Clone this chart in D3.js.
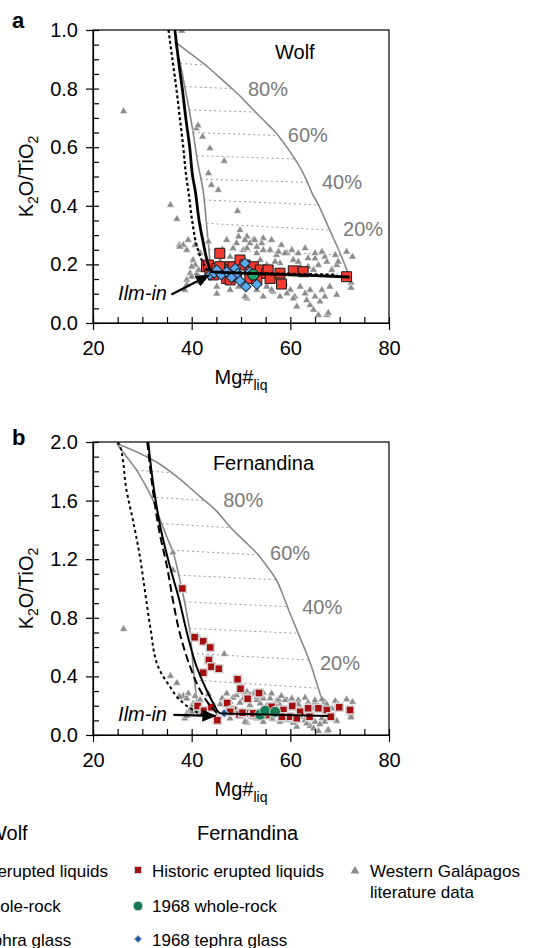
<!DOCTYPE html>
<html>
<head>
<meta charset="utf-8">
<script src="https://cdn.jsdelivr.net/npm/d3@7"></script>
<style>
  body { margin: 0; background: #fff; }
  svg { display: block; font-family: "Liberation Sans", Arial, Helvetica, sans-serif; }
</style>
</head>
<body>
<svg id="chart" width="553" height="948"></svg>
<script>
// ---- data: [Mg#liq, K2O/TiO2] ----
var litData = [
  [26.2,0.723],[38.0,0.997],[36.2,1.245],[36.2,1.125],
  [40.9,0.664],[41.3,0.674],[42.2,0.636],[43.7,0.596],[46.6,0.553],[43.4,0.511],[44.0,0.471],[45.4,0.454],
  [35.7,0.403],[49.3,0.382],[37.0,0.355],[49.8,0.317],
  [37.5,0.266],[38.3,0.266],[39.3,0.283],[39.0,0.249],[37.6,0.26],[40.7,0.266],[41.7,0.239],
  [40.3,0.215],[40.7,0.198],[40.0,0.192],[39.7,0.17],[41.0,0.169],[41.4,0.181],[40.0,0.158],
  [39.0,0.147],[38.6,0.113],[41.7,0.141],[39.0,0.13],[43.4,0.278],
  [51.2,0.295],[52.5,0.283],[54.5,0.289],[48.4,0.255],[50.5,0.249],[53.2,0.238],[55.9,0.249],
  [57.2,0.232],[59.3,0.238],[47.8,0.226],[49.8,0.22],[51.8,0.204],[53.9,0.215],[55.2,0.198],
  [57.9,0.204],[60.6,0.215],[63.0,0.255],[65.0,0.22],[67.0,0.226],[69.1,0.232],[71.4,0.243],
  [72.6,0.226],[69.4,0.198],[62.0,0.192],[56.2,0.283],[57.6,0.243],[58.9,0.238],[58.2,0.266],
  [60.3,0.249],[61.6,0.238],[63.6,0.221],[65.0,0.238],[66.4,0.243],[67.4,0.209],[68.4,0.181],
  [69.7,0.209],[55.5,0.192],[56.9,0.209],[61.6,0.209],[63.6,0.192],[65.7,0.198],[64.7,0.181],
  [49.1,0.272],[50.8,0.283],[51.8,0.272],[52.8,0.283],[53.2,0.26],[54.2,0.272],[54.5,0.249],
  [51.2,0.255],[49.5,0.295],[47.1,0.283],[46.2,0.25],[45.8,0.21],
  [72.3,0.137],[72.3,0.12],
  [45.1,0.124],[47.8,0.113],[51.2,0.084],[49.5,0.124],[45.1,0.10],[50.8,0.09],[53.2,0.113],
  [55.2,0.124],[56.5,0.107],[54.5,0.09],[57.9,0.09],[60.0,0.113],[60.9,0.09],[62.0,0.124],
  [63.0,0.101],[64.0,0.113],[65.0,0.09],[66.4,0.113],[67.0,0.09],[61.3,0.056],[64.0,0.061],
  [65.7,0.027],[67.4,0.027],[63.3,0.078],[58.9,0.135],[56.2,0.113],[67.7,0.034],[68.0,0.124],
  [69.4,0.096],[66.0,0.073],[64.7,0.045],[59.3,0.101],[60.6,0.084]
];

var wolfLiquids = [
  [45.7,0.238],[43.0,0.192],[43.7,0.175],[43.4,0.198],[45.1,0.186],[45.7,0.192],[47.8,0.192],
  [47.8,0.181],[47.1,0.152],[47.8,0.147],[48.4,0.192],[49.8,0.215],[49.1,0.158],[50.8,0.198],
  [51.8,0.175],[51.8,0.152],[52.5,0.192],[53.9,0.181],[53.2,0.147],[55.2,0.169],[55.5,0.181],
  [55.9,0.152],[57.9,0.17],[58.2,0.133],[60.6,0.178],[62.6,0.175],[71.4,0.158],[44.4,0.164]
];
var wolfWholeRock = [[52.5,0.165]];
var wolfGlass = [
  [43.7,0.164],[44.6,0.17],[45.1,0.181],[46.0,0.164],[47.1,0.175],[48.1,0.155],[48.8,0.186],
  [49.3,0.169],[49.8,0.144],[50.8,0.204],[51.0,0.124],[51.8,0.175],[53.2,0.132]
];

var fernLiquids = [
  [38.1,1.0],[40.6,0.668],[42.35,0.64],[43.75,0.598],[43.5,0.512],[44.0,0.466],[45.5,0.453],
  [42.35,0.425],[49.3,0.381],[49.9,0.316],[51.35,0.247],[53.65,0.287],[47.2,0.218],[41.2,0.198],
  [42.5,0.166],[45.2,0.1],[48.4,0.17],[51.4,0.15],[56.2,0.193],[58.6,0.171],[60.4,0.198],
  [62.0,0.159],[63.6,0.182],[65.7,0.182],[67.4,0.171],[68.2,0.125],[69.9,0.189],[72.1,0.171],
  [59.9,0.125],[61.3,0.114],[58.3,0.125],[55.1,0.136],[49.7,0.14],[52.4,0.136],[63.9,0.125],
  [44.0,0.19],[47.8,0.159],[50.3,0.152],[52.5,0.148]
];
var fernWholeRock = [[53.9,0.14],[54.9,0.165],[56.9,0.158]];
var fernGlass = [[46.6,0.148]];

// model curves, Wolf
var wolfArc = [
  [36.6,0.96],[39.3,0.925],[42.4,0.886],[45.0,0.848],[47.8,0.806],[50.2,0.768],[52.5,0.727],
  [55.0,0.685],[57.2,0.647],[59.0,0.607],[60.6,0.568],[62.0,0.53],[63.2,0.49],[64.5,0.44],
  [65.7,0.403],[68.0,0.317],[70.4,0.226],[72.0,0.157]
];
var wolfFC = [
  [36.6,0.96],[37.5,0.9],[38.6,0.807],[39.5,0.727],[40.3,0.65],[41.2,0.55],[42.3,0.454],
  [43.0,0.34],[43.5,0.25],[43.8,0.19]
];
var wolfModel = [
  [36.6,1.0],[37.3,0.9],[38.1,0.8],[38.8,0.7],[39.6,0.6],[40.2,0.5],[40.7,0.454],[41.5,0.35],
  [42.4,0.27],[43.2,0.21],[44.0,0.175],[50.0,0.17],[60.0,0.165],[72.0,0.157]
];
var wolfModelDotted = [
  [35.3,1.0],[36.1,0.9],[36.9,0.8],[37.6,0.7],[38.3,0.6],[38.9,0.5],[39.3,0.454],[40.1,0.35],
  [41.1,0.26],[42.2,0.21],[43.4,0.178],[50.0,0.172],[60.0,0.168],[69.5,0.165]
];
var wolfTies = [
  [0.886,0.88],[0.807,0.80],[0.727,0.72],[0.65,0.64],[0.571,0.56],[0.491,0.48],
  [0.42,0.403],[0.34,0.317],[0.25,0.232]
];

// model curves, Fernandina
var fernArc = [
  [24.8,1.99],[29.0,1.93],[33.5,1.85],[37.5,1.75],[41.7,1.627],[45.0,1.53],[47.8,1.42],
  [50.5,1.33],[53.2,1.24],[55.3,1.15],[57.2,1.058],[58.9,0.92],[60.3,0.80],[61.6,0.694],
  [63.0,0.58],[64.3,0.466],[65.2,0.37],[66.0,0.285],[66.6,0.21],[67.0,0.14]
];
var fernFC = [
  [24.8,1.99],[26.8,1.9],[28.8,1.81],[30.7,1.7],[32.2,1.6],[33.6,1.47],[35.0,1.35],[36.3,1.24],
  [37.6,1.06],[38.5,0.92],[39.0,0.83],[39.7,0.694],[40.3,0.466],[41.0,0.239],[41.1,0.19]
];
var fernModel = [
  [31.2,2.0],[31.9,1.79],[32.9,1.56],[33.9,1.38],[35.6,1.15],[37.5,0.92],[38.6,0.76],
  [39.4,0.65],[41.0,0.466],[42.7,0.33],[44.4,0.216],[45.7,0.148],[55.0,0.14],[67.7,0.13]
];
var fernModelDashed = [
  [31.0,2.0],[31.7,1.79],[32.6,1.56],[33.5,1.38],[35.0,1.15],[36.2,0.92],[37.6,0.694],
  [39.7,0.466],[41.7,0.307],[43.4,0.216],[45.1,0.15]
];
var fernModelDotted = [
  [25.0,2.0],[25.5,1.97],[26.8,1.67],[28.2,1.45],[29.5,1.22],[30.5,0.99],[31.6,0.74],
  [33.2,0.466],[35.6,0.33],[37.6,0.239],[40.3,0.171],[42.4,0.137],[45.0,0.13]
];
var fernTies = [
  [1.807,1.79],[1.625,1.60],[1.443,1.415],[1.261,1.23],[1.091,1.06],[0.909,0.876],
  [0.727,0.694],[0.557,0.512],[0.375,0.319]
];

var pctLabels = ['80%', '60%', '40%', '20%'];
var xTickValues = [20, 40, 60, 80];
var wolfYTicks = [0, 0.2, 0.4, 0.6, 0.8, 1.0];
var fernYTicks = [0, 0.4, 0.8, 1.2, 1.6, 2.0];

var legendHeads = ['Wolf', 'Fernandina'];
var legendRows = ['Historic erupted liquids', '2015 whole-rock', '2015 tephra glass'];
var legendRowsFern = ['Historic erupted liquids', '1968 whole-rock', '1968 tephra glass'];
var legendLit = ['Western Galápagos', 'literature data'];

// ---- drawing ----
var svg = d3.select('#chart');
var FONT = 20;
var plotL = 93, plotW = 296, plotH = 293;

var defs = svg.append('defs');
defs.append('marker')
  .attr('id', 'arrowHead')
  .attr('markerUnits', 'userSpaceOnUse')
  .attr('markerWidth', 14).attr('markerHeight', 12)
  .attr('refX', 13).attr('refY', 6)
  .attr('orient', 'auto')
  .append('path').attr('d', 'M0,0 L14,6 L0,12 Z').attr('fill', '#000');

function xAt(curve, v) {
  for (var i = 0; i < curve.length - 1; i++) {
    var a = curve[i], b = curve[i + 1];
    if ((v <= a[1] && v >= b[1]) || (v >= a[1] && v <= b[1])) {
      var t = (v - a[1]) / (b[1] - a[1]);
      return a[0] + t * (b[0] - a[0]);
    }
  }
  return curve[curve.length - 1][0];
}

var sym = {
  square: function (s) { return d3.symbol().type(d3.symbolSquare).size(s)(); },
  tri: function (s) { return d3.symbol().type(d3.symbolTriangle).size(s)(); }
};

function drawPanel(p) {
  var top = p.top;
  var x = d3.scaleLinear().domain([20, 80]).range([plotL, plotL + plotW]);
  var y = d3.scaleLinear().domain([0, p.yMax]).range([top + plotH, top]);
  var g = svg.append('g');

  var clipId = 'clip' + p.id;
  defs.append('clipPath').attr('id', clipId)
    .append('rect').attr('x', plotL).attr('y', top).attr('width', plotW).attr('height', plotH);

  var plot = g.append('g').attr('clip-path', 'url(#' + clipId + ')');
  var line = d3.line().x(function (d) { return x(d[0]); }).y(function (d) { return y(d[1]); })
    .curve(d3.curveMonotoneY);
  var lineLin = d3.line().x(function (d) { return x(d[0]); }).y(function (d) { return y(d[1]); });

  // tie lines between fractional-crystallisation curve and the arc
  plot.selectAll('.tie').data(p.ties).enter().append('line')
    .attr('x1', function (d) { return x(xAt(p.fc, d[0])); })
    .attr('y1', function (d) { return y(d[0]); })
    .attr('x2', function (d) { return x(xAt(p.arc, d[1])); })
    .attr('y2', function (d) { return y(d[1]); })
    .attr('stroke', '#9a9a9a').attr('stroke-width', 1).attr('stroke-dasharray', '2,3');

  plot.append('path').datum(p.arc).attr('d', lineLin.curve(d3.curveCatmullRom))
    .attr('fill', 'none').attr('stroke', '#888').attr('stroke-width', 1.6);
  plot.append('path').datum(p.fc).attr('d', lineLin.curve(d3.curveCatmullRom))
    .attr('fill', 'none').attr('stroke', '#888').attr('stroke-width', 1.6);

  // literature triangles
  plot.selectAll('.lit').data(litData.filter(function (d) { return d[1] <= p.yMax; }))
    .enter().append('path')
    .attr('d', sym.tri(26))
    .attr('transform', function (d) { return 'translate(' + x(d[0]) + ',' + y(d[1]) + ')'; })
    .attr('fill', '#8c8c8c').attr('stroke', '#fff').attr('stroke-width', 0.5);

  // erupted liquids
  plot.selectAll('.liq').data(p.liquids).enter().append('path')
    .attr('d', sym.square(p.sqSize))
    .attr('transform', function (d) { return 'translate(' + x(d[0]) + ',' + y(d[1]) + ')'; })
    .attr('fill', p.sqFill).attr('stroke', p.sqStroke).attr('stroke-width', p.sqStrokeW);

  plot.selectAll('.gl').data(p.glass).enter().append('path')
    .attr('d', sym.square(p.dmSize))
    .attr('transform', function (d) { return 'translate(' + x(d[0]) + ',' + y(d[1]) + ') rotate(45)'; })
    .attr('fill', p.dmFill).attr('stroke', p.dmStroke).attr('stroke-width', 1);

  plot.selectAll('.wr').data(p.wholeRock).enter().append('circle')
    .attr('cx', function (d) { return x(d[0]); })
    .attr('cy', function (d) { return y(d[1]); })
    .attr('r', 5.5)
    .attr('fill', p.ciFill).attr('stroke', p.ciStroke).attr('stroke-width', 1);

  // model curves
  p.models.forEach(function (m) {
    plot.append('path').datum(m.data).attr('d', line)
      .attr('fill', 'none').attr('stroke', '#000').attr('stroke-width', m.w)
      .attr('stroke-dasharray', m.dash || null);
  });

  // Ilm-in arrow
  g.append('line')
    .attr('x1', x(p.arrow[0][0])).attr('y1', y(p.arrow[0][1]))
    .attr('x2', x(p.arrow[1][0])).attr('y2', y(p.arrow[1][1]))
    .attr('stroke', '#000').attr('stroke-width', 2.2).attr('marker-end', 'url(#arrowHead)');
  g.append('text')
    .attr('x', x(p.ilmText[0])).attr('y', y(p.ilmText[1]))
    .attr('text-anchor', 'end').attr('font-style', 'italic').attr('font-size', FONT)
    .text('Ilm-in');

  // percentage labels
  g.selectAll('.pct').data(pctLabels).enter().append('text')
    .attr('x', function (d, i) { return x(p.pctPos[i][0]); })
    .attr('y', function (d, i) { return y(p.pctPos[i][1]); })
    .attr('dy', '0.35em').attr('font-size', FONT).attr('fill', '#7a7a7a')
    .text(function (d) { return d; });

  g.append('text')
    .attr('x', x(p.titlePos[0])).attr('y', y(p.titlePos[1]))
    .attr('dy', '0.35em').attr('font-size', FONT).text(p.title);

  // frame
  g.append('rect').attr('x', plotL).attr('y', top).attr('width', plotW).attr('height', plotH)
    .attr('fill', 'none').attr('stroke', '#000').attr('stroke-width', 1.2);

  // axes: outward major ticks with labels, inward minor ticks
  var yAx = g.append('g').attr('transform', 'translate(' + plotL + ',0)')
    .call(d3.axisLeft(y).tickValues(p.yTicks).tickSize(7).tickSizeOuter(0).tickPadding(8)
      .tickFormat(d3.format('.1f')));
  g.append('g').attr('transform', 'translate(' + plotL + ',0)')
    .call(d3.axisRight(y).tickValues(d3.range(0, p.yMax + 1e-9, p.yMinor)).tickSize(6)
      .tickSizeOuter(0).tickFormat(''))
    .select('.domain').remove();
  var xAx = g.append('g').attr('transform', 'translate(0,' + (top + plotH) + ')')
    .call(d3.axisBottom(x).tickValues(xTickValues).tickSize(7).tickSizeOuter(0).tickPadding(11));
  g.append('g').attr('transform', 'translate(0,' + (top + plotH) + ')')
    .call(d3.axisTop(x).tickValues(d3.range(20, 80.1, 5)).tickSize(6).tickSizeOuter(0).tickFormat(''))
    .select('.domain').remove();
  g.selectAll('.tick line').attr('stroke-width', 1.2);
  g.selectAll('.domain').attr('stroke-width', 1.2);
  [yAx, xAx].forEach(function (a) {
    a.selectAll('text').attr('font-size', FONT).attr('font-family', null).attr('fill', '#000');
  });

  // axis titles
  var yt = g.append('text')
    .attr('transform', 'translate(33,' + (top + plotH / 2) + ') rotate(-90)')
    .attr('text-anchor', 'middle').attr('font-size', FONT);
  yt.append('tspan').text('K');
  yt.append('tspan').attr('dy', 5).attr('font-size', 14).text('2');
  yt.append('tspan').attr('dy', -5).text('O/TiO');
  yt.append('tspan').attr('dy', 5).attr('font-size', 14).text('2');

  var xt = g.append('text')
    .attr('x', plotL + plotW / 2).attr('y', top + plotH + 61)
    .attr('text-anchor', 'middle').attr('font-size', FONT);
  xt.append('tspan').text('Mg#');
  xt.append('tspan').attr('dy', 6).attr('font-size', 14).text('liq');

  svg.append('text').attr('x', 12).attr('y', p.letterY)
    .attr('font-size', 22).attr('font-weight', 'bold').text(p.id);
}

drawPanel({
  id: 'a', top: 30, yMax: 1.0, yMinor: 0.05, yTicks: wolfYTicks, letterY: 28,
  arc: wolfArc, fc: wolfFC, ties: wolfTies,
  liquids: wolfLiquids, glass: wolfGlass, wholeRock: wolfWholeRock,
  sqSize: 100, sqFill: '#f03a2e', sqStroke: '#1a1a1a', sqStrokeW: 1,
  dmSize: 52, dmFill: '#5aacec', dmStroke: '#1c2a44',
  ciFill: '#1fa56e', ciStroke: '#111',
  models: [
    { data: wolfModelDotted, w: 2.2, dash: '3,2.5' },
    { data: wolfModel, w: 2.8 }
  ],
  arrow: [[35.9, 0.097], [43.5, 0.163]],
  ilmText: [35.0, 0.077],
  pctPos: [[51.4, 0.80], [59.5, 0.64], [66.4, 0.48], [70.7, 0.32]],
  title: 'Wolf', titlePos: [56.9, 0.925]
});

drawPanel({
  id: 'b', top: 442, yMax: 2.0, yMinor: 0.1, yTicks: fernYTicks, letterY: 445,
  arc: fernArc, fc: fernFC, ties: fernTies,
  liquids: fernLiquids, glass: fernGlass, wholeRock: fernWholeRock,
  sqSize: 64, sqFill: '#a50f0f', sqStroke: '#d4d4d4', sqStrokeW: 1.5,
  dmSize: 40, dmFill: '#1f5ba8', dmStroke: '#d4d4d4',
  ciFill: '#137a55', ciStroke: '#d4d4d4',
  models: [
    { data: fernModelDotted, w: 2, dash: '3,3' },
    { data: fernModelDashed, w: 2, dash: '8,4' },
    { data: fernModel, w: 2 }
  ],
  arrow: [[36.3, 0.137], [44.8, 0.13]],
  ilmText: [35.0, 0.096],
  pctPos: [[46.4, 1.604], [55.9, 1.242], [62.4, 0.874], [66.0, 0.492]],
  title: 'Fernandina', titlePos: [44.3, 1.857]
});

// ---- legend ----
var leg = svg.append('g').attr('font-size', 17);
var colX = [-78, 138];
var rowY = [877, 912, 946];
leg.append('text').attr('x', -12).attr('y', 840).attr('font-size', 20).text(legendHeads[0]);
leg.append('text').attr('x', 197).attr('y', 840).attr('font-size', 20).text(legendHeads[1]);

var legendStyles = [
  { sq: '#f03a2e', sqS: '#1a1a1a', ci: '#1fa56e', ciS: '#111', dm: '#5aacec', dmS: '#1c2a44', rows: legendRows },
  { sq: '#a50f0f', sqS: '#d4d4d4', ci: '#137a55', ciS: '#d4d4d4', dm: '#1f5ba8', dmS: '#d4d4d4', rows: legendRowsFern }
];
legendStyles.forEach(function (st, c) {
  var cx = colX[c];
  leg.append('path').attr('d', sym.square(49))
    .attr('transform', 'translate(' + cx + ',' + (rowY[0] - 7) + ')')
    .attr('fill', st.sq).attr('stroke', st.sqS).attr('stroke-width', 1);
  leg.append('circle').attr('cx', cx).attr('cy', rowY[1] - 6).attr('r', 4.8)
    .attr('fill', st.ci).attr('stroke', st.ciS).attr('stroke-width', 1);
  leg.append('path').attr('d', sym.square(32))
    .attr('transform', 'translate(' + cx + ',' + (rowY[2] - 7) + ') rotate(45)')
    .attr('fill', st.dm).attr('stroke', st.dmS).attr('stroke-width', 1);
  st.rows.forEach(function (t, i) {
    leg.append('text').attr('x', cx + 14).attr('y', rowY[i]).text(t);
  });
});
leg.append('path').attr('d', sym.tri(34))
  .attr('transform', 'translate(355,871)').attr('fill', '#8c8c8c');
legendLit.forEach(function (t, i) {
  leg.append('text').attr('x', 370).attr('y', 877 + i * 21).text(t);
});
</script>
</body>
</html>
